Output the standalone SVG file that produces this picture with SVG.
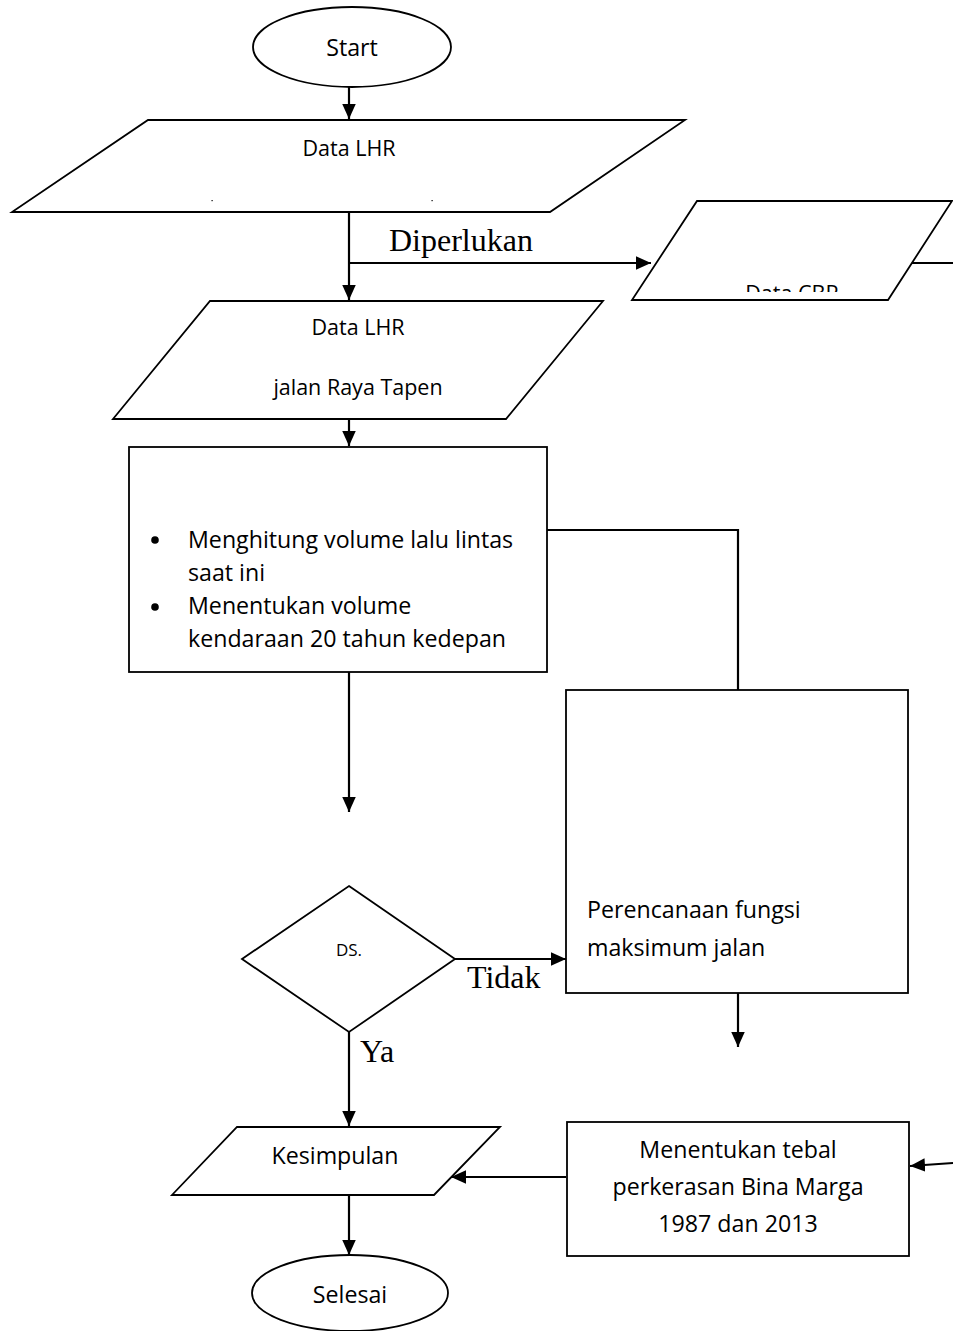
<svg xmlns="http://www.w3.org/2000/svg" width="953" height="1331" viewBox="0 0 953 1331">
<style>
.s{fill:#fff;stroke:#000;stroke-width:1.8}
.c{fill:none;stroke:#000;stroke-width:2.2}
.t{font-family:"Open Sans","Liberation Sans",sans-serif;fill:#000}
.b{font-size:23.2px}
.d{font-size:21.5px}
.r{font-family:"Liberation Serif","Times New Roman",serif;font-size:32px;fill:#000}
</style>
<defs>
<marker id="b" viewBox="0 0 10 10" refX="10" refY="5" markerWidth="15" markerHeight="15" markerUnits="userSpaceOnUse" orient="auto">
<path d="M0,0.5 L10,5 L0,9.5 z" fill="#000"/>
</marker>
<clipPath id="cbr"><rect x="630" y="200" width="323" height="92"/></clipPath>
</defs>

<g id="connectors">
<path class="c" d="M349,87 V119" marker-end="url(#b)"/>
<path class="c" d="M349,212 V300" marker-end="url(#b)"/>
<path class="c" d="M349,263 H651" marker-end="url(#b)"/>
<path class="c" d="M908,263 H953"/>
<path class="c" d="M349,419 V446" marker-end="url(#b)"/>
<path class="c" d="M547,530 H738 V690"/>
<path class="c" d="M349,672 V812" marker-end="url(#b)"/>
<path class="c" d="M455,959 H566" marker-end="url(#b)"/>
<path class="c" d="M349,1032 V1126" marker-end="url(#b)"/>
<path class="c" d="M738,993 V1047" marker-end="url(#b)"/>
<path class="c" d="M566,1177 H451" marker-end="url(#b)"/>
<path class="c" d="M953,1163 L910,1166" marker-end="url(#b)"/>
<path class="c" d="M349,1195 V1255" marker-end="url(#b)"/>
</g>

<g id="start">
<ellipse class="s" cx="352" cy="47" rx="99" ry="40"/>
<text class="t b" x="352" y="56" text-anchor="middle">Start</text>
</g>

<g id="data-lhr-1">
<polygon class="s" points="148,120 685,120 550,212 12,212"/>
<text class="t d" x="349" y="156" text-anchor="middle">Data LHR</text>
<rect x="211.5" y="200" width="1.2" height="1.2" fill="#000"/>
<rect x="431.5" y="200" width="1.2" height="1.2" fill="#000"/>
</g>

<g id="data-cbr">
<polygon class="s" points="697,201 952,201 888,300 632,300"/>
<text class="t d" x="792" y="301" text-anchor="middle" clip-path="url(#cbr)">Data CBR</text>
</g>

<g id="data-lhr-2">
<polygon class="s" points="210,301 603,301 506,419 113,419"/>
<text class="t d" x="358" y="335" text-anchor="middle">Data LHR</text>
<text class="t d" x="358" y="395" text-anchor="middle">jalan Raya Tapen</text>
</g>

<g id="hitung">
<rect class="s" x="129" y="447" width="418" height="225"/>
<circle cx="155" cy="540" r="3.8" fill="#000"/>
<circle cx="155" cy="607" r="3.8" fill="#000"/>
<text class="t b" x="188" y="548">Menghitung volume lalu lintas</text>
<text class="t b" x="188" y="581">saat ini</text>
<text class="t b" x="188" y="614">Menentukan volume</text>
<text class="t b" x="188" y="647">kendaraan 20 tahun kedepan</text>
</g>

<g id="perencanaan">
<rect class="s" x="566" y="690" width="342" height="303"/>
<text class="t b" x="587" y="918">Perencanaan fungsi</text>
<text class="t b" x="587" y="956">maksimum jalan</text>
</g>

<g id="ds">
<polygon class="s" points="349,886 455,959 349,1032 242,959"/>
<text class="t" x="349" y="956" font-size="17" text-anchor="middle">DS.</text>
</g>

<g id="labels">
<text class="r" x="389" y="251">Diperlukan</text>
<text class="r" x="467" y="988">Tidak</text>
<text class="r" x="360" y="1062">Ya</text>
</g>

<g id="kesimpulan">
<polygon class="s" points="237,1127 500,1127 434,1195 172,1195"/>
<text class="t b" x="335" y="1164" text-anchor="middle">Kesimpulan</text>
</g>

<g id="tebal">
<rect class="s" x="567" y="1122" width="342" height="134"/>
<text class="t b" x="738" y="1158" text-anchor="middle">Menentukan tebal</text>
<text class="t b" x="738" y="1195" text-anchor="middle">perkerasan Bina Marga</text>
<text class="t b" x="738" y="1232" text-anchor="middle">1987 dan 2013</text>
</g>

<g id="selesai">
<ellipse class="s" cx="350" cy="1293" rx="98" ry="38"/>
<text class="t b" x="350" y="1303" text-anchor="middle">Selesai</text>
</g>
</svg>
